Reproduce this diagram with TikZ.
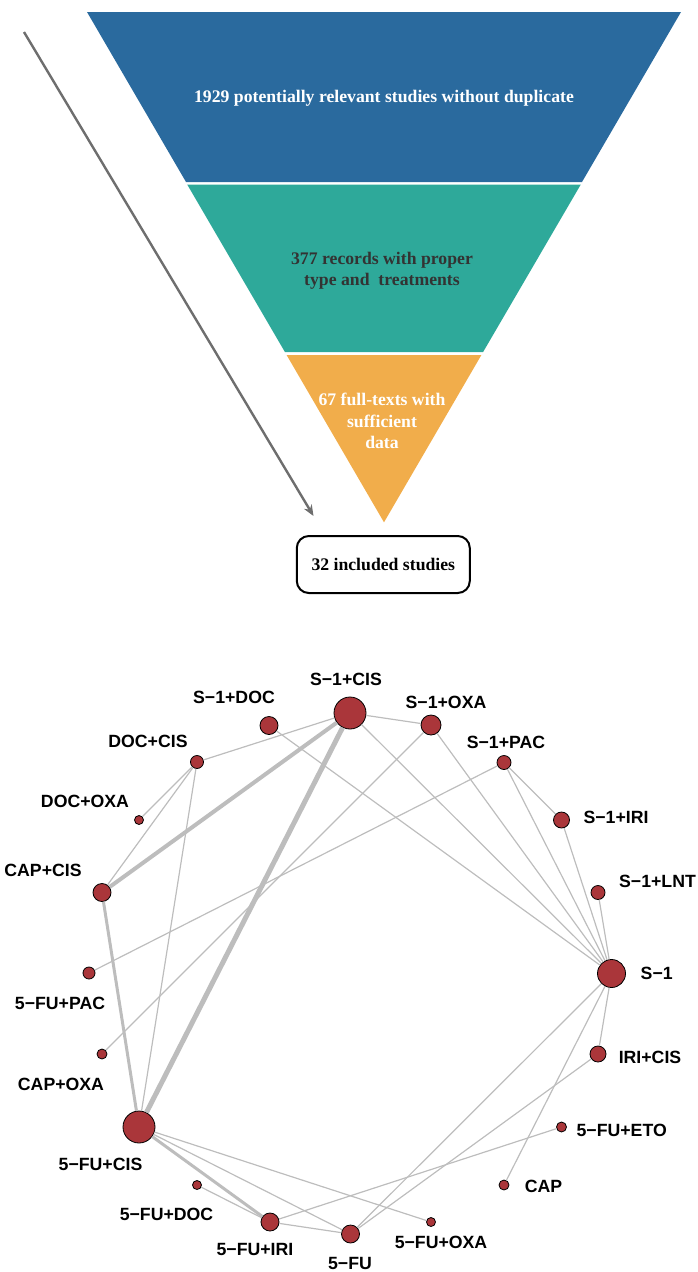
\documentclass[tikz,border=0pt]{standalone}
\usetikzlibrary{arrows.meta}
\usepackage{fontspec}
\setmainfont{Liberation Serif}
\newfontfamily\arialfont{Liberation Sans}
\definecolor{fblue}{HTML}{2A6A9E}
\definecolor{fgreen}{HTML}{2EA99A}
\definecolor{forange}{HTML}{F1AD4B}
\definecolor{nodered}{HTML}{AA363A}
\definecolor{edgegray}{HTML}{BDBDBD}
\definecolor{arrowgray}{HTML}{6E6E6E}
\definecolor{darktext}{HTML}{333333}
\begin{document}
\begin{tikzpicture}[x=1pt,y=-1pt,
  tnode/.style={circle,draw=black,line width=0.8pt,fill=nodered,inner sep=0pt,minimum size=#1},
  lbl/.style={font=\arialfont\bfseries\fontsize{17.7}{20}\selectfont,inner sep=0pt,anchor=center},
  lnk/.style={draw=edgegray,line width=1.2pt},
  funtext/.style={font=\bfseries\fontsize{17.7}{21.5}\selectfont,align=center,inner sep=0pt},
]
\useasboundingbox (0,0) rectangle (698,1272);

% ---------- funnel ----------
\fill[fblue] (87,12) -- (681,12) -- (582,182) -- (186,182) -- cycle;
\fill[fgreen] (187.2,184.5) -- (580.8,184.5) -- (483.1,352) -- (284.9,352) -- cycle;
\fill[forange] (286.6,355) -- (481.4,355) -- (384,522.3) -- cycle;

\node[funtext,text=white] (t1) at (384,98) {1929 potentially relevant studies without duplicate};
\node[funtext,text=darktext] (t2) at (382,271) {377 records with proper\\ type and\ \ treatments};
\node[funtext,text=white] (t3) at (382,421) {67 full-texts with\\sufficient\\data};

\node[draw=black,line width=2pt,rounded corners=12pt,minimum width=173pt,minimum height=57pt,
      font=\bfseries\fontsize{17.7}{20}\selectfont,inner sep=0pt] (inc) at (383.3,564.5) {32 included studies};

\coordinate (astart) at (24,32);
\coordinate (aend) at (313.5,516);
\draw[arrowgray,line width=2.4pt,-{Stealth[length=11pt,width=9pt]}] (astart) -- (aend);

% ---------- network nodes ----------
\node[tnode=32pt] (S1CIS) at (350,713) {};
\node[tnode=18pt] (S1DOC) at (269,725.5) {};
\node[tnode=13pt] (DOCCIS) at (197,762) {};
\node[tnode=9pt] (DOCOXA) at (139,820) {};
\node[tnode=18pt] (CAPCIS) at (102,892.5) {};
\node[tnode=12pt] (FUPAC) at (89,973) {};
\node[tnode=10pt] (CAPOXA) at (102,1054) {};
\node[tnode=32pt] (FUCIS) at (139,1127) {};
\node[tnode=9pt] (FUDOC) at (197,1185) {};
\node[tnode=18pt] (FUIRI) at (270,1222) {};
\node[tnode=18pt] (FU) at (350.5,1234) {};
\node[tnode=9pt] (FUOXA) at (431,1222) {};
\node[tnode=10pt] (CAP) at (504,1185) {};
\node[tnode=10pt] (FUETO) at (561.5,1127) {};
\node[tnode=16pt] (IRICIS) at (598,1054) {};
\node[tnode=28pt] (S1) at (611.5,973.5) {};
\node[tnode=14pt] (S1LNT) at (598,892.5) {};
\node[tnode=16pt] (S1IRI) at (561.5,820) {};
\node[tnode=14pt] (S1PAC) at (504,762.5) {};
\node[tnode=20pt] (S1OXA) at (431,725) {};

% ---------- labels ----------
\node[lbl] (lS1CIS) at (346,679) {S−1+CIS};
\node[lbl] (lS1DOC) at (234,697) {S−1+DOC};
\node[lbl] (lDOCCIS) at (148,741) {DOC+CIS};
\node[lbl] (lDOCOXA) at (85,801) {DOC+OXA};
\node[lbl] (lCAPCIS) at (43,870) {CAP+CIS};
\node[lbl] (lFUPAC) at (60,1003) {5−FU+PAC};
\node[lbl] (lCAPOXA) at (61,1084) {CAP+OXA};
\node[lbl] (lFUCIS) at (100.5,1164) {5−FU+CIS};
\node[lbl] (lFUDOC) at (166.5,1214) {5−FU+DOC};
\node[lbl] (lFUIRI) at (255,1249) {5−FU+IRI};
\node[lbl] (lFU) at (350,1263) {5−FU};
\node[lbl] (lFUOXA) at (441,1242) {5−FU+OXA};
\node[lbl] (lCAP) at (543.5,1186) {CAP};
\node[lbl] (lFUETO) at (621.7,1130) {5−FU+ETO};
\node[lbl] (lIRICIS) at (650,1057) {IRI+CIS};
\node[lbl] (lS1) at (656.7,973) {S−1};
\node[lbl] (lS1LNT) at (657.5,881) {S−1+LNT};
\node[lbl] (lS1IRI) at (616,817) {S−1+IRI};
\node[lbl] (lS1PAC) at (506,742) {S−1+PAC};
\node[lbl] (lS1OXA) at (446,702.5) {S−1+OXA};

% ---------- edges ----------
\draw[lnk] (S1CIS) -- (DOCCIS);
\draw[lnk] (S1CIS) -- (S1OXA);
\draw[lnk] (S1CIS) -- (S1);
\draw[lnk] (S1DOC) -- (S1);
\draw[lnk] (S1OXA) -- (S1);
\draw[lnk] (S1OXA) -- (CAPOXA);
\draw[lnk] (S1PAC) -- (FUPAC);
\draw[lnk] (S1PAC) -- (S1IRI);
\draw[lnk] (S1PAC) -- (S1);
\draw[lnk] (S1IRI) -- (S1);
\draw[lnk] (S1LNT) -- (S1);
\draw[lnk] (S1) -- (IRICIS);
\draw[lnk] (S1) -- (FU);
\draw[lnk] (S1) -- (CAP);
\draw[lnk] (IRICIS) -- (FU);
\draw[lnk] (FUETO) -- (FUIRI);
\draw[lnk] (FUCIS) -- (FUOXA);
\draw[lnk] (FUCIS) -- (FU);
\draw[lnk] (FUDOC) -- (FUIRI);
\draw[lnk] (FUIRI) -- (FU);
\draw[lnk] (DOCCIS) -- (DOCOXA);
\draw[lnk] (DOCCIS) -- (CAPCIS);
\draw[lnk] (DOCCIS) -- (FUCIS);
\draw[lnk,line width=5pt] (S1CIS) -- (FUCIS);
\draw[lnk,line width=4pt] (S1CIS) -- (CAPCIS);
\draw[lnk,line width=3pt] (CAPCIS) -- (FUCIS);
\draw[lnk,line width=3pt] (FUCIS) -- (FUIRI);
\end{tikzpicture}
\end{document}
